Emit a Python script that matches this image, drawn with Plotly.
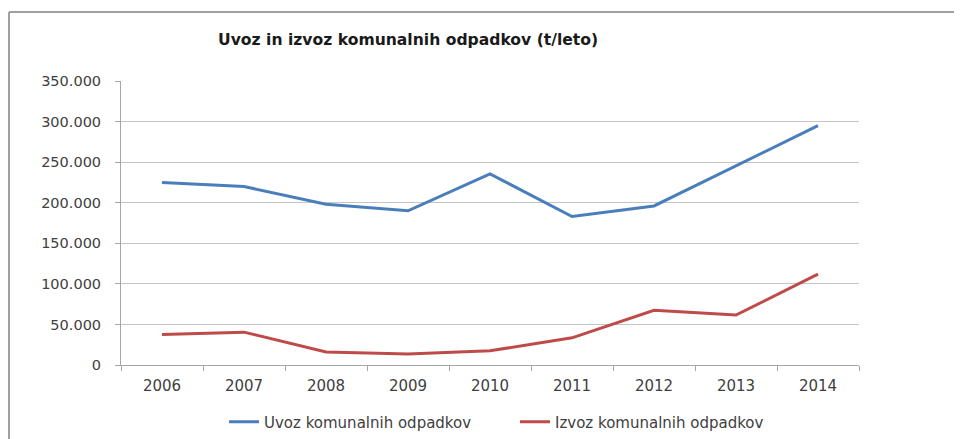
import plotly.graph_objects as go

years = ["2006", "2007", "2008", "2009", "2010", "2011", "2012", "2013", "2014"]
uvoz = [225000, 220000, 198000, 190000, 235500, 183000, 196000, 246000, 295000]
izvoz = [37500, 40500, 16000, 13500, 17500, 33500, 67500, 61500, 112000]
yticks = [0, 50000, 100000, 150000, 200000, 250000, 300000, 350000]

# page has an 8px body margin; figure sized to fill the 962x439 window
OFF = 8
W, H = 962 - OFF, 439 - OFF
L, T = 121 - OFF, 81 - OFF
R = W - (859 - OFF)
B = H - (365 - OFF)
PW, PH = W - L - R, H - T - B


def px(x):
    return (x - OFF - L) / PW


def py(y):
    return (H - B - (y - OFF)) / PH


fig = go.Figure()
fig.add_trace(go.Scatter(x=years, y=uvoz, mode="lines", name="Uvoz komunalnih odpadkov",
                         line=dict(color="#4a7ebb", width=3)))
fig.add_trace(go.Scatter(x=years, y=izvoz, mode="lines", name="Izvoz komunalnih odpadkov",
                         line=dict(color="#be4b48", width=3)))

font = "DejaVu Sans, Verdana, sans-serif"
fig.update_layout(
    width=W, height=H,
    margin=dict(l=L, r=R, t=T, b=B, autoexpand=False),
    paper_bgcolor="white", plot_bgcolor="white",
    separators=",.",
    font=dict(family=font, size=15, color="#404040"),
    xaxis=dict(type="category", showgrid=False, showline=True, linecolor="#a6a6a6", linewidth=1,
               ticks="outside", tickson="boundaries", ticklen=5, tickcolor="#a6a6a6",
               ticklabelstandoff=7,
               tickfont=dict(size=15, color="#404040"), range=[-0.5, 8.5]),
    yaxis=dict(range=[0, 350000], tickvals=yticks, tickformat=",d", showgrid=True,
               gridcolor="#c4c4c4", gridwidth=1, showline=True, linecolor="#a6a6a6",
               ticks="outside", ticklen=5, tickcolor="#a6a6a6", zeroline=False,
               ticklabelstandoff=11,
               tickfont=dict(size=14.5, color="#404040")),
    legend=dict(orientation="h", x=px(224), xanchor="left",
                y=py(422), yanchor="middle",
                font=dict(size=15, color="#404040"), entrywidth=246, entrywidthmode="pixels"),
    showlegend=True,
)
fig.add_annotation(text="<b>Uvoz in izvoz komunalnih odpadkov (t/leto)</b>", xref="paper", yref="paper",
                   x=px(408), y=py(40), xanchor="center",
                   yanchor="middle", showarrow=False, font=dict(size=15.6, color="#1a1a1a", family=font))
# outer frame (top and left edges visible)
fig.add_shape(type="line", xref="paper", yref="paper", x0=px(9), x1=px(962), y0=py(12), y1=py(12),
              line=dict(color="#a0a0a0", width=2))
fig.add_shape(type="line", xref="paper", yref="paper", x0=px(9), x1=px(9), y0=py(12), y1=py(439),
              line=dict(color="#a0a0a0", width=2))

fig.write_html("out.html")
